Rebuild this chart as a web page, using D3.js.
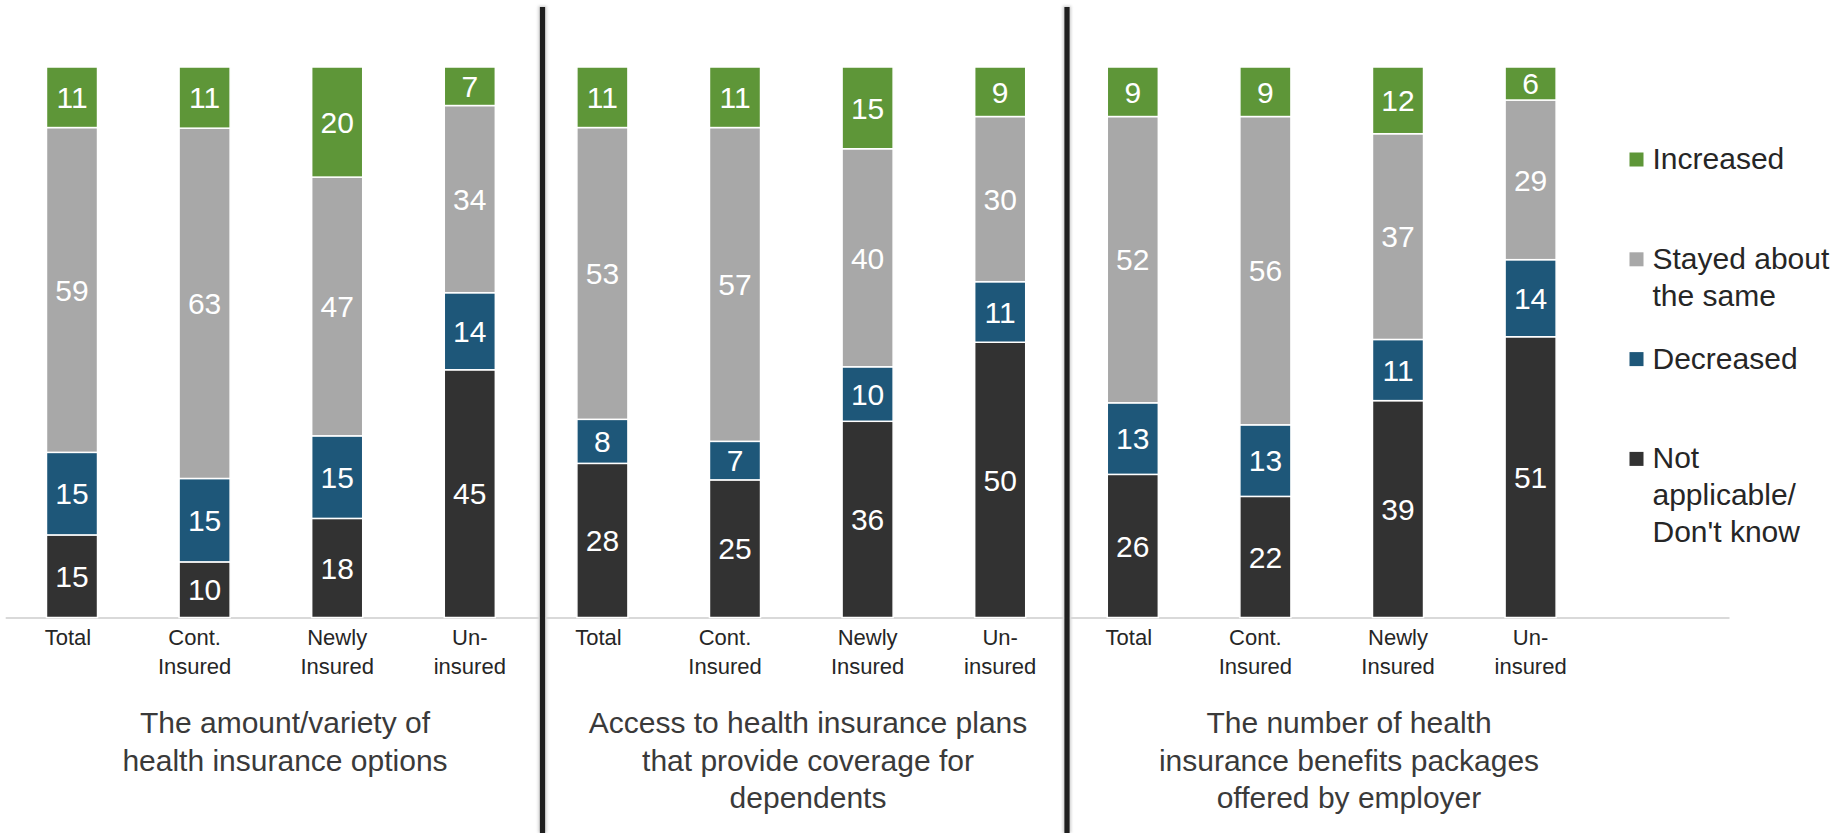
<!DOCTYPE html>
<html>
<head>
<meta charset="utf-8">
<script src="https://cdn.jsdelivr.net/npm/d3@7/dist/d3.min.js"></script>
<style>
  html, body { margin: 0; padding: 0; background: #ffffff; }
  svg { display: block; font-family: "Liberation Sans", Arial, sans-serif; }
</style>
</head>
<body>
<svg id="chart" width="1846" height="833"></svg>
<script>
// Respondent groups shown in every panel (tick labels, split into lines)
const groups = ["Total", "Cont.\nInsured", "Newly\nInsured", "Un-\ninsured"];

// Panel titles (one per question)
const panelTitles = [
  ["The amount/variety of", "health insurance options"],
  ["Access to health insurance plans", "that provide coverage for", "dependents"],
  ["The number of health", "insurance benefits packages", "offered by employer"]
];

// Answer categories, bottom of the stack first
const seriesNames = ["Not applicable/ Don't know", "Decreased", "Stayed about the same", "Increased"];

// Percentages per panel, in group order
const notApplicable = [[15, 10, 18, 45], [28, 25, 36, 50], [26, 22, 39, 51]];
const decreased     = [[15, 15, 15, 14], [8, 7, 10, 11],   [13, 13, 11, 14]];
const stayedSame    = [[59, 63, 47, 34], [53, 57, 40, 30], [52, 56, 37, 29]];
const increased     = [[11, 11, 20, 7],  [11, 11, 15, 9],  [9, 9, 12, 6]];

// Legend entries, top to bottom, with their text lines
const legendLines = [
  ["Increased"],
  ["Stayed about", "the same"],
  ["Decreased"],
  ["Not", "applicable/", "Don't know"]
];

// ---- presentation ----
const colors = {
  "Not applicable/ Don't know": "#323232",
  "Decreased": "#1e5779",
  "Stayed about the same": "#a8a8a8",
  "Increased": "#5e9638"
};
const legendOrder = ["Increased", "Stayed about the same", "Decreased", "Not applicable/ Don't know"];
const titleCenters = [285, 808, 1349];
const tickNudge = { "Total": -4, "Cont.\nInsured": -10 };
const separatorX = [542.5, 1067];

const svg = d3.select("#chart");
const W = 1846, H = 833;
svg.append("rect").attr("width", W).attr("height", H).attr("fill", "#ffffff");

// Flatten panels into rows for the stack layout
const rows = [];
panelTitles.forEach((t, p) => {
  groups.forEach((g, i) => {
    rows.push({
      key: p + "|" + g,
      panel: p,
      group: g,
      "Not applicable/ Don't know": notApplicable[p][i],
      "Decreased": decreased[p][i],
      "Stayed about the same": stayedSame[p][i],
      "Increased": increased[p][i]
    });
  });
});

const plotLeft = 5.7, step = 132.6;
const x = d3.scaleBand()
  .domain(rows.map(r => r.key))
  .range([plotLeft, plotLeft + rows.length * step])
  .paddingInner(0.615)
  .paddingOuter(0.3075);

const y = d3.scaleLinear().domain([0, 1]).range([617.5, 67]);

// 100% stacked layout
const stack = d3.stack().keys(seriesNames).offset(d3.stackOffsetExpand);
const stacked = stack(rows);

// Vertical panel separators (soft halo + dark rule)
const defs = svg.append("defs");
defs.append("filter").attr("id", "soft")
  .attr("x", "-200%").attr("width", "500%")
  .append("feGaussianBlur").attr("stdDeviation", 1.6);

separatorX.forEach(sx => {
  svg.append("rect")
    .attr("x", sx - 4).attr("y", 6).attr("width", 8).attr("height", H - 6)
    .attr("fill", "#9a9a9a").attr("opacity", 0.5).attr("filter", "url(#soft)");
});

// Baseline axis rule, extending one extra slot to the right
const axisEnd = plotLeft + (rows.length + 1) * step;
svg.append("line")
  .attr("x1", plotLeft).attr("x2", axisEnd)
  .attr("y1", 618).attr("y2", 618)
  .attr("stroke", "#d9d9d9").attr("stroke-width", 2);

// Bars
const layer = svg.append("g").selectAll("g")
  .data(stacked)
  .join("g")
  .attr("fill", s => colors[s.key]);

layer.selectAll("rect")
  .data(s => s.map(d => ({ d, key: s.key })))
  .join("rect")
  .attr("x", o => x(o.d.data.key))
  .attr("width", x.bandwidth())
  .attr("y", o => y(o.d[1]))
  .attr("height", o => y(o.d[0]) - y(o.d[1]))
  .attr("stroke", "#ffffff")
  .attr("stroke-width", 1.5);

// Value labels centred in each segment
const labels = svg.append("g")
  .attr("fill", "#ffffff")
  .attr("font-size", 30)
  .attr("text-anchor", "middle");

stacked.forEach(s => {
  s.forEach(d => {
    labels.append("text")
      .attr("x", x(d.data.key) + x.bandwidth() / 2)
      .attr("y", (y(d[0]) + y(d[1])) / 2)
      .attr("dy", "0.36em")
      .text(d.data[s.key]);
  });
});

separatorX.forEach(sx => {
  svg.append("rect")
    .attr("x", sx - 2.6).attr("y", 7).attr("width", 5.2).attr("height", H - 7)
    .attr("fill", "#1f1f1f");
});

// Category tick labels
const ticks = svg.append("g")
  .attr("fill", "#262626")
  .attr("font-size", 22)
  .attr("text-anchor", "middle");

rows.forEach(r => {
  const t = ticks.append("text")
    .attr("x", x(r.key) + x.bandwidth() / 2 + (tickNudge[r.group] || 0))
    .attr("y", 645);
  r.group.split("\n").forEach((line, i) => {
    t.append("tspan")
      .attr("x", x(r.key) + x.bandwidth() / 2 + (tickNudge[r.group] || 0))
      .attr("y", 645 + i * 29)
      .text(line);
  });
});

// Panel titles
const titles = svg.append("g")
  .attr("fill", "#3a3a3a")
  .attr("font-size", 30)
  .attr("text-anchor", "middle");

panelTitles.forEach((lines, p) => {
  lines.forEach((line, i) => {
    titles.append("text")
      .attr("x", titleCenters[p])
      .attr("y", 733 + i * 37.5)
      .text(line);
  });
});

// Legend
const legend = svg.append("g").attr("font-size", 30).attr("fill", "#262626");
legendOrder.forEach((name, i) => {
  const base = 169 + i * 99.8;
  legend.append("rect")
    .attr("x", 1629.5).attr("y", base - 16.5)
    .attr("width", 14).attr("height", 14)
    .attr("fill", colors[name]);
  legendLines[i].forEach((line, j) => {
    legend.append("text")
      .attr("x", 1652.5)
      .attr("y", base + j * 37)
      .text(line);
  });
});
</script>
</body>
</html>
